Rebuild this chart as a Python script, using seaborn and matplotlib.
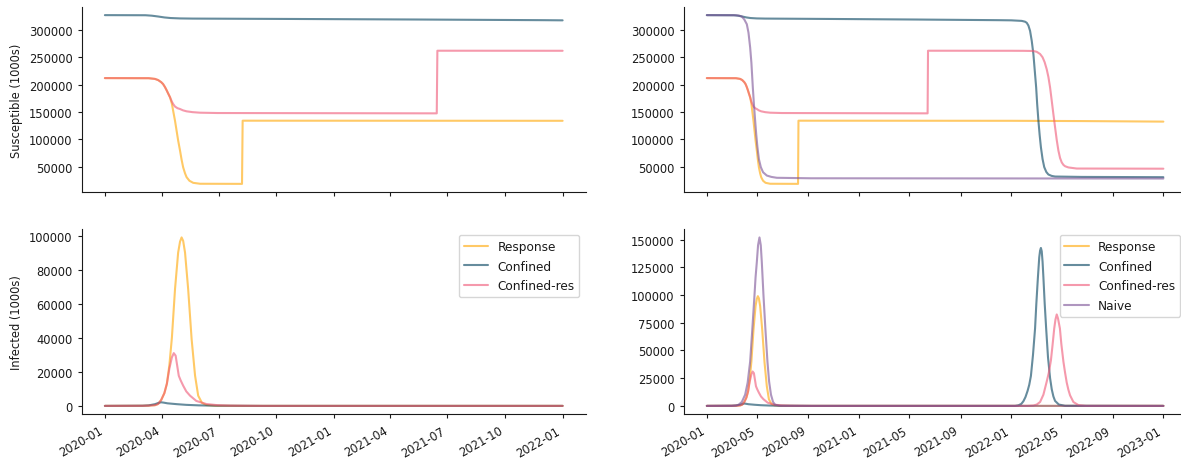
import matplotlib
matplotlib.use("Agg")
import matplotlib.pyplot as plt
import seaborn as sns
import pandas as pd
import numpy as np

# ---------------- data (days since 2020-01-01, values in 1000s) ----------------
START = "2020-01-01"
LEFT_END_DAY = 731   # 2022-01-01

resp_S_days = [0, 70, 80, 85, 90, 93, 96, 98.5, 101, 104, 107, 109, 112, 114.5, 117, 120,
               122.5, 125, 128, 130.5, 135, 141, 152, 219, 220, 731, 900, 1096]
resp_S_vals = [212000, 211800, 210500, 208400, 204500, 201000, 195500, 190000, 184000, 177000,
               165000, 152500, 134000, 116000, 98000, 79600, 63000, 49000, 38000, 31000, 24500,
               20700, 19000, 18800, 134200, 134000, 133500, 132500]

conf_S_days = [0, 65, 75, 85, 95, 105, 120, 140, 300, 500, 700, 731, 756, 764, 768, 772, 776,
               780, 784, 787, 790.6, 793, 796, 799, 802, 806, 810, 815, 820, 828, 836, 900, 1096]
conf_S_vals = [327000, 326800, 326000, 324500, 322800, 321700, 321000, 320700, 320000, 319000,
               317800, 317500, 316500, 315000, 313000, 308000, 298200, 280000, 255700, 228000,
               195000, 165000, 134200, 108000, 85800, 64000, 49400, 40500, 35900, 33300, 32200,
               31500, 31000]

cres_S_days = [0, 70, 80, 85, 90, 93, 96, 98.5, 101, 104, 107, 109, 112, 116, 120, 125, 130.5,
               140, 152, 180, 530, 531, 731, 760, 784, 792, 800, 806, 811, 816, 820, 824, 828,
               832, 836, 840, 844, 848, 852, 856, 860, 868, 888, 1096]
cres_S_vals = [212000, 211800, 210500, 208400, 204500, 201000, 195500, 190000, 184000, 177000,
               169000, 164700, 160000, 157000, 155500, 153000, 151300, 149800, 148800, 148200,
               147600, 262000, 261900, 261800, 261500, 260000, 256000, 250000, 241000, 228000,
               214000, 195000, 170700, 146000, 122200, 99000, 79600, 66000, 58000, 53500, 51000,
               48800, 46800, 46500]

naive_S_days = [0, 70, 78, 84, 90, 96, 100, 104, 107, 110.4, 113, 116, 118.5, 121.5, 125, 129.6,
                135, 144, 155, 168, 250, 1096]
naive_S_vals = [327000, 326800, 326000, 324400, 319000, 310400, 295000, 268000, 240000, 195000,
                165000, 134200, 110000, 85800, 64000, 49400, 40000, 34000, 31500, 29900, 29000,
                28500]

resp_I_days = [0, 60, 70, 80, 85, 90, 95, 99, 103, 107, 112, 117, 120, 122.5, 125, 128, 133,
               138.5, 144, 149, 155, 162, 175, 220, 731, 1096]
resp_I_vals = [0, 50, 150, 400, 1100, 3500, 7500, 13000, 24000, 40000, 68600, 90100, 96500,
               99000, 97000, 90100, 68600, 39300, 17800, 6000, 1800, 500, 100, 0, 0, 0]

conf_I_days = [0, 60, 70, 80, 86, 90, 94, 100, 115, 130, 150, 180, 250, 731, 740, 748, 755, 760,
               765, 770, 774, 778, 783, 788, 791, 794.6, 798, 800, 802, 804, 806, 808, 811, 814.6,
               819, 824, 828, 832, 836, 845, 860, 1096]
conf_I_vals = [0, 100, 300, 1000, 1800, 2100, 1900, 1500, 1000, 600, 300, 100, 0, 0, 0, 500,
               1800, 4200, 8000, 13500, 19000, 27000, 46000, 70000, 92000, 114700, 134000,
               140000, 142500, 139500, 130000, 116000, 93000, 69900, 44000, 25100, 15000, 8500,
               4500, 1200, 100, 0]

cres_I_days = [0, 60, 70, 80, 85, 90, 95, 99, 103, 107, 110, 113, 115.5, 118, 121, 125, 130,
               136, 146, 162, 180, 200, 250, 731, 770, 784, 792, 800, 808, 816, 821, 826, 830,
               834, 837, 840, 843, 847.6, 851, 856, 860, 864, 868, 872, 880, 892, 910, 1096]
cres_I_vals = [0, 50, 150, 400, 1100, 3500, 7500, 13000, 22000, 28500, 31000, 29500, 23600,
               17700, 15000, 11900, 8500, 6000, 2900, 1100, 400, 150, 0, 0, 0, 300, 1200, 3500,
               10100, 22000, 30000, 41000, 55000, 69900, 78000, 82500, 79000, 69900, 56000,
               40000, 30000, 21000, 14500, 9500, 3500, 700, 0, 0]

naive_I_days = [0, 60, 70, 76, 84, 92, 98, 104, 109, 114.4, 117, 120, 123, 126.4, 129.5, 132,
                136, 140.5, 145.5, 149.5, 154, 159, 164, 175, 250, 1096]
naive_I_vals = [0, 100, 400, 1000, 3500, 10100, 21000, 40000, 68000, 99700, 116000, 129700,
                145000, 152000, 145000, 129700, 99700, 70000, 40000, 22000, 10100, 3500, 1000,
                100, 0, 0]

series_names = ["Response", "Confined", "Confined-res", "Naive"]
series_colors = ["#ffa600", "#003f5c", "#ef5675", "#7a5195"]

S_data = {"Response": (resp_S_days, resp_S_vals), "Confined": (conf_S_days, conf_S_vals),
          "Confined-res": (cres_S_days, cres_S_vals), "Naive": (naive_S_days, naive_S_vals)}
I_data = {"Response": (resp_I_days, resp_I_vals), "Confined": (conf_I_days, conf_I_vals),
          "Confined-res": (cres_I_days, cres_I_vals), "Naive": (naive_I_days, naive_I_vals)}

# ---------------- style ----------------
sns.set_theme(style="ticks")
plt.rcParams.update({
    "font.family": ["DejaVu Sans"],
    "font.size": 8.3, "axes.labelsize": 8.3, "xtick.labelsize": 8.3,
    "ytick.labelsize": 8.3, "legend.fontsize": 8.7, "legend.labelspacing": 0.55,
    "xtick.major.size": 2.9, "ytick.major.size": 2.9,
    "xtick.major.width": 0.8, "ytick.major.width": 0.8,
    "xtick.major.pad": 4, "ytick.major.pad": 4,
    "axes.linewidth": 0.8, "lines.linewidth": 1.5,
    "axes.edgecolor": "0.1", "xtick.color": "0.1", "ytick.color": "0.1",
    "text.color": "0.1", "axes.labelcolor": "0.1",
})

W, H = 1181, 464
fig = plt.figure(figsize=(W / 100, H / 100), dpi=100)


def rect(x0, x1, y0, y1):
    return [x0 / W, 1 - y1 / H, (x1 - x0) / W, (y1 - y0) / H]


ax_tl = fig.add_axes(rect(82, 585.5, 7.7, 193.3))
ax_bl = fig.add_axes(rect(82, 585.5, 230, 415.3), sharex=ax_tl)
ax_tr = fig.add_axes(rect(684, 1186.2, 7.7, 193.3))
ax_br = fig.add_axes(rect(684, 1186.2, 230, 415.3), sharex=ax_tr)

t0 = pd.Timestamp(START)


def draw(ax, data, names, max_day):
    for name in names:
        color = series_colors[series_names.index(name)]
        days, vals = data[name]
        d = np.asarray(days, dtype=float)
        v = np.asarray(vals, dtype=float)
        keep = d <= max_day
        df = pd.DataFrame({"date": t0 + pd.to_timedelta(d[keep], unit="D"), "value": v[keep]})
        sns.lineplot(data=df, x="date", y="value", ax=ax, color=color, alpha=0.6,
                     linewidth=1.5, label=name, legend=False, sort=False)


left_names = ["Response", "Confined", "Confined-res"]
draw(ax_tl, S_data, left_names, LEFT_END_DAY)
draw(ax_bl, I_data, left_names, LEFT_END_DAY)
draw(ax_tr, S_data, series_names, 1096)
draw(ax_br, I_data, series_names, 1096)

for ax in (ax_tl, ax_bl, ax_tr, ax_br):
    ax.set_xlabel("")
    ax.set_ylabel("")
    sns.despine(ax=ax)
    leg = ax.get_legend()
    if leg is not None:
        leg.remove()

ax_tl.set_ylabel("Susceptible (1000s)")
ax_bl.set_ylabel("Infected (1000s)")

for ax in (ax_tl, ax_tr):
    ax.tick_params(axis="x", labelbottom=False)

for ax in (ax_bl, ax_br):
    ax.legend(loc="upper right")
    for lbl in ax.get_xticklabels():
        lbl.set_rotation(30)
        lbl.set_horizontalalignment("right")

fig.savefig("out.png", dpi=100)
